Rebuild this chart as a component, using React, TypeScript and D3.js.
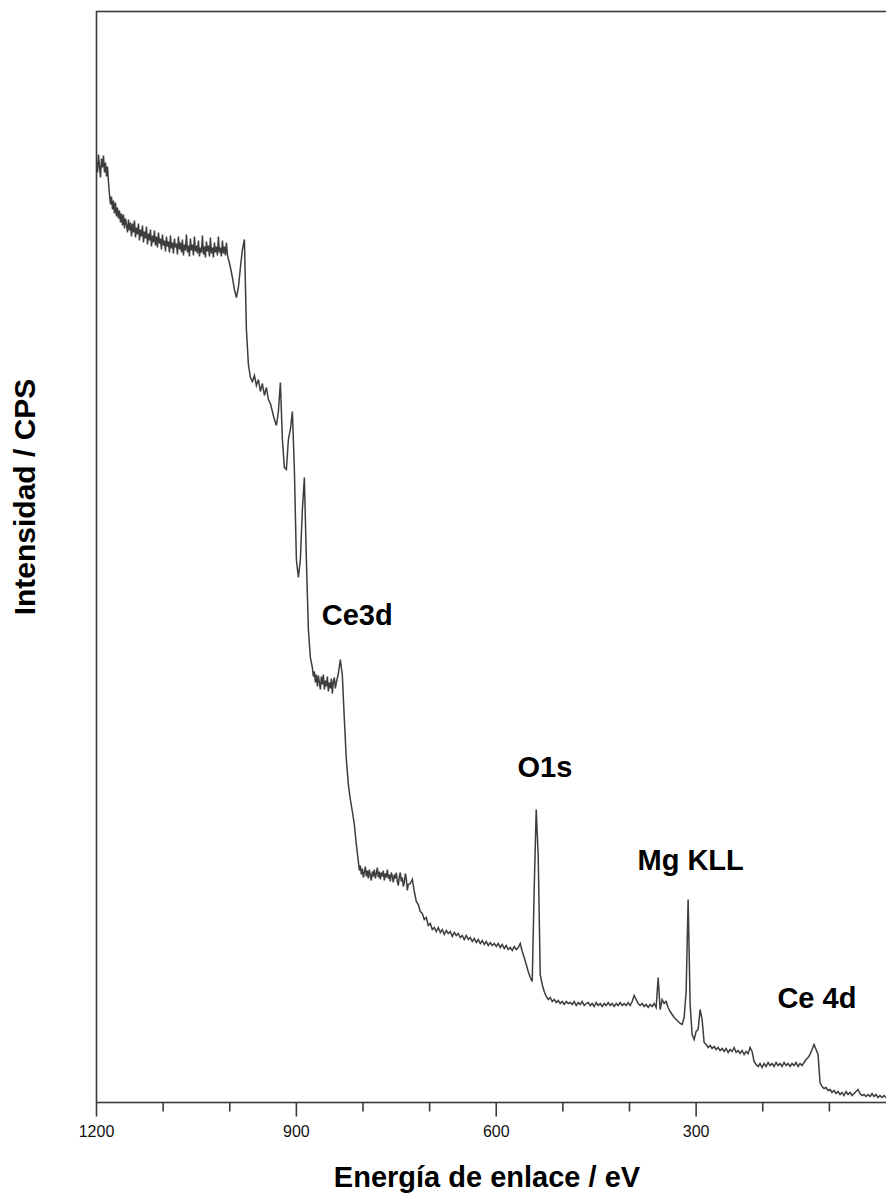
import React from 'react';
import * as d3 from 'd3';

// Binding energy (eV) / intensity (CPS, arbitrary scale)
const highEnergyRegion: [number, number][] = [
  [1200, 941], [1198.5, 930], [1197, 948], [1195.5, 936], [1194, 925], [1192.5, 944],
  [1191, 935], [1189.5, 947], [1188, 930], [1186.5, 940], [1185, 926], [1183.5, 936],
  [1182, 920], [1180.5, 908], [1179, 898], [1177.5, 906], [1176, 893], [1174.5, 902],
  [1173, 889], [1171.5, 900], [1170, 886], [1168.5, 895], [1167, 884], [1165.5, 892],
  [1164, 880], [1162.5, 889], [1161, 877], [1159.5, 888], [1158, 874], [1156.5, 884],
  [1155, 878], [1153.5, 870], [1152, 883], [1150.5, 872], [1149, 880], [1147.5, 866],
  [1146, 879], [1144.5, 870], [1143, 882], [1141.5, 865], [1140, 875], [1138.5, 868],
  [1137, 879], [1135.5, 862], [1134, 873], [1132.5, 866], [1131, 877], [1129.5, 860],
  [1128, 871], [1126.5, 864], [1125, 876], [1123.5, 858], [1122, 869], [1120.5, 862],
  [1119, 873], [1117.5, 856], [1116, 867], [1114.5, 860], [1113, 872], [1111.5, 857],
  [1110, 866], [1108.5, 855], [1107, 870], [1105.5, 859], [1104, 864], [1102.5, 853],
  [1101, 868], [1099.5, 857], [1098, 862], [1096.5, 851], [1095, 866], [1093.5, 856],
  [1092, 861], [1090.5, 850], [1089, 867], [1087.5, 854], [1086, 860], [1084.5, 849],
  [1083, 864], [1081.5, 855], [1080, 859], [1078.5, 848], [1077, 866], [1075.5, 853],
  [1074, 860], [1072.5, 850], [1071, 863], [1069.5, 847], [1068, 858], [1066.5, 852],
  [1065, 868], [1063.5, 850], [1062, 857], [1060.5, 846], [1059, 864], [1057.5, 852],
  [1056, 858], [1054.5, 847], [1053, 866], [1051.5, 851], [1050, 857], [1048.5, 849],
  [1047, 862], [1045.5, 846], [1044, 855], [1042.5, 850], [1041, 867], [1039.5, 848],
  [1038, 856], [1036.5, 845], [1035, 861], [1033.5, 851], [1032, 857], [1030.5, 846],
  [1029, 865], [1027.5, 849], [1026, 855], [1024.5, 845], [1023, 860], [1021.5, 850],
  [1020, 856], [1018.5, 847], [1017, 866], [1015.5, 850], [1014, 855], [1012.5, 846],
  [1011, 862], [1009.5, 849], [1008, 856], [1006.5, 847], [1005, 860], [1003.5, 848],
  [1002, 843], [1000.5, 840], [999, 835], [996, 825], [993, 813],
  [990, 805], [987, 815], [984, 835], [981, 853], [978, 863],
];

const ce3dRegion: [number, number][] = [
  [975, 773], [972, 738], [969, 725], [966, 721], [963, 727], [960, 717], [957, 723],
  [954, 711], [951, 719], [948, 707], [945, 715], [942, 703], [939, 699], [936, 691],
  [933, 683], [930, 677], [927, 691], [924, 720], [921, 663], [918, 635], [915, 633],
  [912, 663], [909, 673], [906, 691], [903, 633], [900, 543], [897, 525], [894, 543],
  [891, 593], [888, 625], [885, 543], [882, 473], [879, 445], [876, 435], [874.5, 426],
  [873, 431], [871.5, 420], [870, 428], [868.5, 416], [867, 427], [865.5, 420],
  [864, 413], [862.5, 426], [861, 418], [859.5, 428], [858, 413], [856.5, 422],
  [855, 416], [853.5, 426], [852, 411], [850.5, 420], [849, 414], [847.5, 424],
  [846, 409], [844.5, 421], [843, 425], [841.5, 414], [840, 420], [837, 429],
  [834, 443], [831, 427],
];

const lossRegion: [number, number][] = [
  [828, 383], [825, 343], [822, 318], [819, 303], [816, 291], [813, 278], [810, 258],
  [807, 241], [805.5, 232], [804, 237], [802.5, 228], [801, 234], [799.5, 225],
  [798, 230], [796.5, 236], [795, 226], [793.5, 232], [792, 224], [790.5, 233],
  [789, 227], [787.5, 222], [786, 231], [784.5, 226], [783, 233], [781.5, 224],
  [780, 229], [778.5, 235], [777, 225], [775.5, 231], [774, 223], [772.5, 230],
  [771, 226], [769.5, 232], [768, 222], [766.5, 229], [765, 225], [763.5, 233],
  [762, 224], [760.5, 228], [759, 221], [757.5, 230], [756, 226], [754.5, 220],
  [753, 228], [751.5, 224], [750, 230], [748.5, 221], [747, 217], [745.5, 226],
  [744, 230], [742.5, 221], [741, 225], [739.5, 216], [738, 220], [736.5, 229],
  [735, 224], [733.5, 212], [732, 218], [729, 219], [726, 223],
  [723, 211], [720, 201], [717, 198], [714, 191], [711, 189], [708, 183], [705, 185],
  [702, 177], [699, 179], [696, 173], [693, 175], [690, 171], [687, 175], [684, 170],
  [681, 173], [678, 168], [675, 172], [672, 169], [669, 171], [666, 166], [663, 170],
  [660, 167], [657, 169], [654, 165], [651, 167], [648, 163], [645, 167], [642, 163],
  [639, 165], [636, 161], [633, 164], [630, 160], [627, 163], [624, 159], [621, 162],
  [618, 158], [615, 161], [612, 157], [609, 160], [606, 157], [603, 159], [600, 156],
  [597, 159], [594, 155], [591, 158], [588, 154], [585, 157], [582, 153], [579, 155],
  [576, 152], [573, 156], [570, 153], [567, 155], [564, 159], [561, 151], [558, 145],
  [555, 138], [552, 131], [549, 125], [546, 121],
];

const o1sRegion: [number, number][] = [
  [543, 215], [540, 293], [537, 246], [534, 128], [531, 118], [528, 111], [525, 106],
  [522, 103], [519, 105], [516, 101], [513, 103], [510, 100], [507, 102], [504, 99],
  [501, 101], [498, 98], [495, 101], [492, 99], [489, 100], [486, 98], [483, 101],
  [480, 97], [477, 100], [474, 98], [471, 101], [468, 97], [465, 99], [462, 100],
  [459, 97], [456, 99], [453, 96], [450, 100], [447, 97], [444, 99], [441, 96],
  [438, 99], [435, 97], [432, 100], [429, 97], [426, 99], [423, 96], [420, 99],
  [417, 97], [414, 100], [411, 97], [408, 99], [405, 97], [402, 100], [399, 97],
  [396, 101], [393, 107], [390, 103], [387, 99], [384, 97], [381, 99], [378, 96],
  [375, 98], [372, 95], [369, 98], [366, 96], [363, 99], [360, 95],
];

const mgKllRegion: [number, number][] = [
  [357, 125], [354, 93], [351, 103], [348, 99], [345, 101], [342, 95], [339, 91],
  [336, 88], [333, 85], [330, 83], [327, 81], [324, 79], [321, 78], [318, 85],
  [315, 111], [312, 203], [309, 98], [306, 68], [303, 63], [300, 71], [297, 73],
  [294, 93], [291, 83], [288, 60], [285, 58], [282, 55], [279, 57], [276, 54],
  [273, 56], [270, 53], [267, 55], [264, 52], [261, 54], [258, 51], [255, 54],
  [252, 50], [249, 53], [246, 51], [243, 55], [240, 50], [237, 52], [234, 49],
  [231, 52], [228, 48], [225, 51], [222, 49], [219, 55], [216, 51],
];

const ce4dRegion: [number, number][] = [
  [213, 41], [210, 38], [207, 36], [204, 39], [201, 35], [198, 39], [195, 36],
  [192, 40], [189, 37], [186, 39], [183, 36], [180, 40], [177, 37], [174, 39],
  [171, 36], [168, 40], [165, 37], [162, 39], [159, 36], [156, 39], [153, 37],
  [150, 40], [147, 36], [144, 39], [141, 37], [138, 40], [135, 43], [132, 45],
  [129, 48], [126, 53], [123, 58], [120, 53], [117, 48], [114, 20], [111, 16],
  [108, 14], [105, 15], [102, 12], [99, 13], [96, 10], [93, 12], [90, 9],
  [87, 11], [84, 8], [81, 10], [78, 7], [75, 11], [72, 8], [69, 10], [66, 7],
  [63, 9], [60, 11], [57, 13], [54, 9], [51, 7], [48, 8], [45, 6], [42, 8],
  [39, 6], [36, 9], [33, 6], [30, 8], [27, 5], [24, 7], [21, 5], [18, 7],
  [15, 5], [12, 6],
];

const majorTicks = [1200, 900, 600, 300];
const minorTicks = [1100, 1000, 800, 700, 500, 400, 200, 100];

const peakLabels = [
  { text: 'Ce3d', energy: 862, intensity: 478 },
  { text: 'O1s', energy: 568, intensity: 326 },
  { text: 'Mg KLL', energy: 388, intensity: 233 },
  { text: 'Ce 4d', energy: 178, intensity: 95 },
];

const xTitle = 'Energía de enlace / eV';
const yTitle = 'Intensidad / CPS';

const W = 886;
const H = 1196;
const left = 96.5;
const right = 896;
const top = 11.5;
const bottom = 1102.5;

export default function App() {
  const spectrum = [
    ...highEnergyRegion,
    ...ce3dRegion,
    ...lossRegion,
    ...o1sRegion,
    ...mgKllRegion,
    ...ce4dRegion,
  ];
  const x = d3.scaleLinear().domain([1200, 0]).range([left, right]);
  const y = d3.scaleLinear().domain([0, 1091]).range([bottom, top]);
  const line = d3
    .line<[number, number]>()
    .x((d) => x(d[0]))
    .y((d) => y(d[1]));

  const font = '"Liberation Sans", Arial, sans-serif';
  const axisColor = '#3a3a3a';

  return (
    <svg
      width={W}
      height={H}
      style={{ position: 'absolute', left: 0, top: 0, background: '#fff' }}
    >
      <rect x={0} y={0} width={W} height={H} fill="#fff" />
      {/* frame */}
      <rect
        x={x(1200)}
        y={top}
        width={x(0) - x(1200)}
        height={bottom - top}
        fill="none"
        stroke={axisColor}
        strokeWidth={1.6}
      />
      {/* spectrum */}
      <path d={line(spectrum) || ''} fill="none" stroke="#3d3d3d" strokeWidth={1.5} strokeLinejoin="miter" />
      {/* ticks */}
      {majorTicks.map((t) => (
        <g key={'M' + t}>
          <line x1={x(t)} x2={x(t)} y1={bottom} y2={bottom + 14} stroke={axisColor} strokeWidth={1.6} />
          <text
            x={x(t)}
            y={bottom + 34.5}
            textAnchor="middle"
            fontFamily={font}
            fontSize={16}
            fill="#111"
          >
            {t}
          </text>
        </g>
      ))}
      {minorTicks.map((t) => (
        <line key={'m' + t} x1={x(t)} x2={x(t)} y1={bottom} y2={bottom + 9} stroke={axisColor} strokeWidth={1.6} />
      ))}
      {/* peak labels */}
      {peakLabels.map((p) => (
        <text
          key={p.text}
          x={x(p.energy)}
          y={y(p.intensity)}
          fontFamily={font}
          fontWeight="bold"
          fontSize={29}
          fill="#000"
        >
          {p.text}
        </text>
      ))}
      {/* axis titles */}
      <text
        x={487}
        y={1187}
        textAnchor="middle"
        fontFamily={font}
        fontWeight="bold"
        fontSize={29}
        fill="#000"
      >
        {xTitle}
      </text>
      <text
        transform="translate(35,497) rotate(-90)"
        textAnchor="middle"
        fontFamily={font}
        fontWeight="bold"
        fontSize={30}
        fill="#000"
      >
        {yTitle}
      </text>
    </svg>
  );
}
